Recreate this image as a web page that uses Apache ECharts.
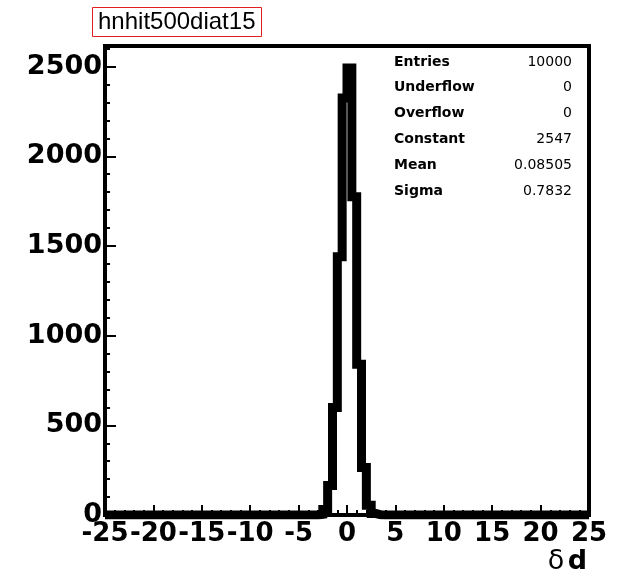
<!DOCTYPE html>
<html>
<head>
<meta charset="utf-8">
<title>hnhit500diat15</title>
<script src="https://cdn.jsdelivr.net/npm/echarts@6/dist/echarts.min.js"></script>
<style>
	html, body { margin: 0; padding: 0; background: #fff; }
	#chart { width: 627px; height: 582px; }
</style>
</head>
<body>
<div id="chart"></div>
<script>
// histogram: 100 bins of 0.5 from -25 to 25
var histName = 'hnhit500diat15';
var xMin = -25;
var xMax = 25;
var binWidth = 0.5;
var counts = [
	0, 0, 0, 0, 0, 0, 0, 0, 0, 0,
	0, 0, 0, 0, 0, 0, 0, 0, 0, 0,
	0, 0, 0, 0, 0, 0, 0, 0, 0, 0,
	0, 0, 0, 0, 0, 0, 0, 0, 0, 0,
	0, 0, 0, 0, 4, 30, 165, 600, 1440, 2325,
	2492, 1775, 840, 265, 55, 8, 1, 0, 0, 0,
	0, 0, 0, 0, 0, 0, 0, 0, 0, 0,
	0, 0, 0, 0, 0, 0, 0, 0, 0, 0,
	0, 0, 0, 0, 0, 0, 0, 0, 0, 0,
	0, 0, 0, 0, 0, 0, 0, 0, 0, 0
];
var yMax = 2615;

// stats box
var statNames = ['Entries', 'Underflow', 'Overflow', 'Constant', 'Mean', 'Sigma'];
var statValues = ['10000', '0', '0', '2547', '0.08505', '0.7832'];
var axisTitle = 'δ d';

var chart = echarts.init(document.getElementById('chart'));

// bin lower edges + closing edge, for a step outline
var histData = [];
for (var i = 0; i < counts.length; i++) {
	histData.push([xMin + i * binWidth, counts[i]]);
}
histData.push([xMax, counts[counts.length - 1]]);

function labelFont(size) {
	return {
		fontFamily: 'DejaVu Sans',
		fontWeight: 'bold',
		fontSize: size,
		color: '#000',
		formatter: function(v) {
			return String(v);
		}
	};
}

var statsGraphics = [];
for (var k = 0; k < statNames.length; k++) {
	statsGraphics.push({
		type: 'text',
		left: 394,
		top: 55 + k * 25.8,
		style: {
			text: statNames[k],
			font: 'bold 14px "DejaVu Sans"',
			fill: '#000'
		}
	});
	statsGraphics.push({
		type: 'text',
		right: 55,
		top: 55 + k * 25.8,
		style: {
			text: statValues[k],
			font: '14px "DejaVu Sans"',
			fill: '#000',
			align: 'right'
		}
	});
}

// axis title, bottom right
var parts = axisTitle.split(' ');
statsGraphics.push({
	type: 'text',
	right: 40,
	top: 548,
	style: {
		text: '{a|' + parts[0] + '} {b|' + parts[1] + '}',
		rich: {
			a: { fontFamily: 'DejaVu Sans', fontSize: 27, fill: '#000' },
			b: { fontFamily: 'DejaVu Sans', fontWeight: 'bold', fontSize: 27, fill: '#000' }
		}
	}
});

var option = {
	animation: false,
	backgroundColor: '#fff',
	title: {
		text: histName,
		left: 92,
		top: 7,
		padding: [2, 6, 2, 6],
		borderColor: '#e02020',
		borderWidth: 1,
		textStyle: {
			fontFamily: 'Liberation Sans',
			fontSize: 24,
			fontWeight: 'normal',
			lineHeight: 26,
			color: '#000'
		}
	},
	grid: {
		left: 105,
		right: 38,
		top: 46,
		bottom: 67,
		show: true,
		borderColor: '#000',
		borderWidth: 4,
		backgroundColor: '#fff'
	},
	xAxis: {
		type: 'value',
		min: xMin,
		max: xMax,
		interval: 5,
		axisLine: { show: false, onZero: false },
		axisTick: { show: true, inside: true, length: 10, lineStyle: { color: '#000', width: 2 } },
		minorTick: { show: true, splitNumber: 5, length: 5, lineStyle: { color: '#000', width: 2 } },
		splitLine: { show: false },
		axisLabel: Object.assign({ margin: 6, showMinLabel: true, showMaxLabel: true }, labelFont(26))
	},
	yAxis: [{
		type: 'value',
		position: 'left',
		min: 0,
		max: yMax,
		interval: 500,
		axisLine: { show: false, onZero: false },
		axisTick: { show: true, inside: true, length: 11, lineStyle: { color: '#000', width: 2 } },
		splitLine: { show: false },
		axisLabel: Object.assign({ margin: 3, showMaxLabel: false }, labelFont(27))
	}, {
		type: 'value',
		position: 'left',
		min: 0,
		max: yMax,
		interval: 100,
		axisLine: { show: false, onZero: false },
		axisTick: { show: true, inside: true, length: 5, lineStyle: { color: '#000', width: 2 } },
		splitLine: { show: false },
		axisLabel: { show: false }
	}],
	series: [{
		type: 'line',
		step: 'end',
		data: histData,
		xAxisIndex: 0,
		yAxisIndex: 0,
		symbol: 'none',
		clip: true,
		lineStyle: { color: '#000', width: 9, join: 'miter' }
	}],
	graphic: statsGraphics
};

chart.setOption(option);
</script>
</body>
</html>
